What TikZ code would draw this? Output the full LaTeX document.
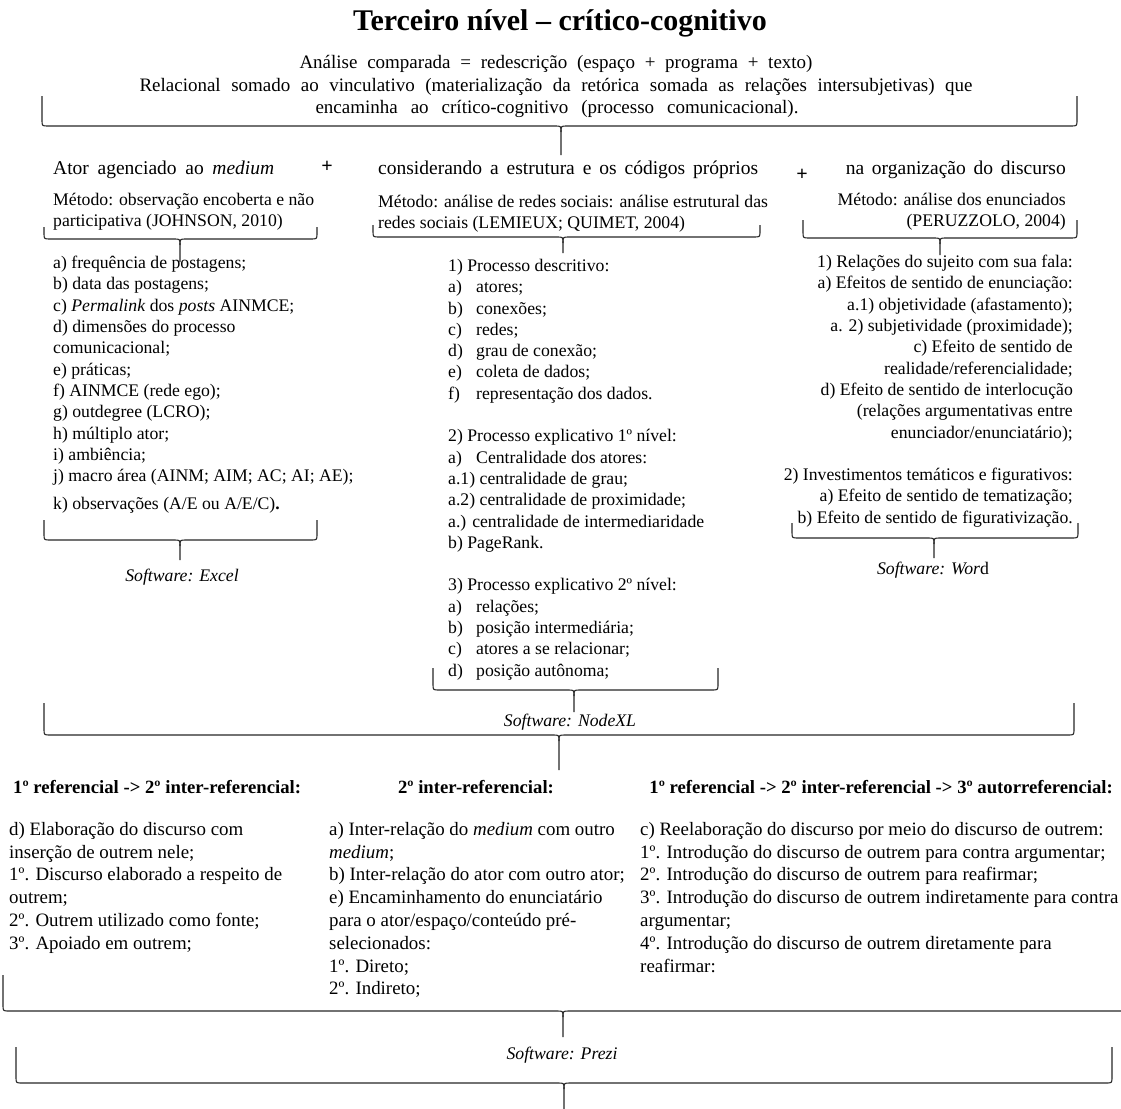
\documentclass[tikz,border=0pt]{standalone}
\usepackage{fontspec}
\setmainfont{Liberation Serif}

\newcommand\corpo{\fontsize{17.7}{21.3}\selectfont}
\newcommand\corpob{\fontsize{18.9}{22.8}\selectfont}
\newcommand\rot[1]{\makebox[28pt][l]{#1}}
% chave: x1, x2, y das pontas, y da barra, x da ponta central, y da ponta central
\newcommand\chave[6]{%
	\draw[chave] (#1,#3) -- (#1,#4-6) .. controls (#1,#4) .. (#1+6,#4) -- (#5-6,#4) .. controls (#5,#4) .. (#5,#4+6) -- (#5,#6);
	\draw[chave] (#2,#3) -- (#2,#4-6) .. controls (#2,#4) .. (#2-6,#4) -- (#5+6,#4) .. controls (#5,#4) .. (#5,#4+6);
}

\begin{document}
\begin{tikzpicture}[x=1pt, y=-1pt,
		every node/.style={inner sep=0pt, font=\corpo},
		chave/.style={draw=black!85, line width=1.1pt, line join=round},
		lista/.style={align=left, anchor=north west, execute at begin node=\strut},
		listad/.style={align=right, anchor=north east, execute at begin node=\strut},
		titulo/.style={font=\fontsize{30}{33}\selectfont\bfseries},
		topo/.style={anchor=base, font=\fontsize{19}{22.7}\selectfont},
		coluna/.style={font=\fontsize{19.5}{23}\selectfont},
		mais/.style={font=\fontsize{20}{24}\selectfont\bfseries},
		cabeca/.style={font=\fontsize{18.7}{22.8}\selectfont\bfseries},
		baixo/.style={lista, font=\corpob},
		soft/.style={font=\corpo\itshape}]

	\useasboundingbox (0,0) rectangle (1121,1108);

	\node[titulo] (titulo) at (560,23) {Terceiro nível – crítico-cognitivo};
	\node[topo] (sub1) at (556,68) {\makebox[513pt][s]{Análise comparada = redescrição (espaço + programa + texto)}};
	\node[topo] (sub2) at (556,91) {\makebox[833pt][s]{Relacional somado ao vinculativo (materialização da retórica somada as relações intersubjetivas) que}};
	\node[topo] (sub3) at (557,113) {\makebox[483pt][s]{encaminha ao crítico-cognitivo (processo comunicacional).}};
	\chave{42}{1077}{96}{126}{561}{155}

	\node[coluna, anchor=base west] (ator) at (53,174) {\makebox[221pt][s]{Ator agenciado ao \textit{medium}}};
	\node[mais] (mais1) at (327,167) {+};
	\node[coluna, anchor=base west] (estrutura) at (378,174) {\makebox[380pt][s]{considerando a estrutura e os códigos próprios}};
	\node[mais] (mais2) at (802,175) {+};
	\node[coluna, anchor=base east] (discurso) at (1066,174) {\makebox[220pt][s]{na organização do discurso}};

	\node[lista] (metodo1) at (53,193)
		{Método: observação encoberta e não\\ participativa (JOHNSON, 2010)};
	\node[lista] (metodo2) at (378,195)
		{Método: análise de redes sociais: análise estrutural das\\ redes sociais (LEMIEUX; QUIMET, 2004)};
	\node[listad] (metodo3) at (1066,193)
		{Método: análise dos enunciados\\ (PERUZZOLO, 2004)};
	\chave{44}{317}{227}{239}{180}{262}
	\chave{373}{760}{225}{237}{563}{253}
	\chave{803}{1077}{220}{238}{940}{255}

	\node[lista] (lista1) at (53,256)
		{a) frequência de postagens;\\ b) data das postagens;\\ c) \textit{Permalink} dos \textit{posts} AINMCE;\\
		d) dimensões do processo\\ comunicacional;\\ e) práticas;\\ f) AINMCE (rede ego);\\ g) outdegree (LCRO);\\
		h) múltiplo ator;\\ i) ambiência;\\ j) macro área (AINM; AIM; AC; AI; AE);\\[7pt]
		k) observações (A/E ou A/E/C)\textbf{.}};
	\node[lista] (lista2) at (448,259)
		{1) Processo descritivo:\\ \rot{a)}atores;\\ \rot{b)}conexões;\\ \rot{c)}redes;\\ \rot{d)}grau de conexão;\\
		\rot{e)}coleta de dados;\\ \rot{f)}representação dos dados.\\[21.3pt]
		2) Processo explicativo 1º nível:\\ \rot{a)}Centralidade dos atores:\\ a.1) centralidade de grau;\\
		a.2) centralidade de proximidade;\\ a.) centralidade de intermediaridade\\ b) PageRank.\\[21.3pt]
		3) Processo explicativo 2º nível:\\ \rot{a)}relações;\\ \rot{b)}posição intermediária;\\
		\rot{c)}atores a se relacionar;\\ \rot{d)}posição autônoma;};
	\node[listad] (lista3) at (1073,255)
		{1) Relações do sujeito com sua fala:\\ a) Efeitos de sentido de enunciação:\\ a.1) objetividade (afastamento);\\
		a. 2) subjetividade (proximidade);\\ c) Efeito de sentido de\\ realidade/referencialidade;\\
		d) Efeito de sentido de interlocução\\ (relações argumentativas entre\\ enunciador/enunciatário);\\[21.3pt]
		2) Investimentos temáticos e figurativos:\\ a) Efeito de sentido de tematização;\\ b) Efeito de sentido de figurativização.};

	\chave{44}{317}{520}{540}{180}{560}
	\chave{792}{1078}{523}{538}{934}{558}
	\node[soft] (excel) at (182,577) {Software: Excel};
	\node[soft] (word) at (933,570) {Software: Wor\upshape d};

	\chave{433}{718}{668}{690}{574}{712}
	\node[soft] (nodexl) at (570,722) {Software: NodeXL};
	\chave{44}{1074}{703}{735}{559}{770}

	\node[cabeca, anchor=base west] (ref1) at (13,793) {1º referencial -> 2º inter-referencial:};
	\node[cabeca, anchor=base] (ref2) at (476,793) {2º inter-referencial:};
	\node[cabeca, anchor=base east] (ref3) at (1113,793) {1º referencial -> 2º inter-referencial -> 3º autorreferencial:};

	\node[baixo] (baixo1) at (9,822)
		{d) Elaboração do discurso com\\ inserção de outrem nele;\\ 1º. Discurso elaborado a respeito de\\
		outrem;\\ 2º. Outrem utilizado como fonte;\\ 3º. Apoiado em outrem;};
	\node[baixo] (baixo2) at (329,822)
		{a) Inter-relação do \textit{medium} com outro\\ \textit{medium};\\ b) Inter-relação do ator com outro ator;\\
		e) Encaminhamento do enunciatário\\ para o ator/espaço/conteúdo pré-\\ selecionados:\\ 1º. Direto;\\ 2º. Indireto;};
	\node[baixo] (baixo3) at (640,822)
		{c) Reelaboração do discurso por meio do discurso de outrem:\\
		1º. Introdução do discurso de outrem para contra argumentar;\\
		2º. Introdução do discurso de outrem para reafirmar;\\
		3º. Introdução do discurso de outrem indiretamente para contra\\ argumentar;\\
		4º. Introdução do discurso de outrem diretamente para\\ reafirmar:};

	\chave{3}{1135}{975}{1011}{563}{1037}
	\node[soft] (prezi) at (562,1055) {Software: Prezi};
	\chave{16}{1112}{1047}{1083}{564}{1120}
\end{tikzpicture}
\end{document}
